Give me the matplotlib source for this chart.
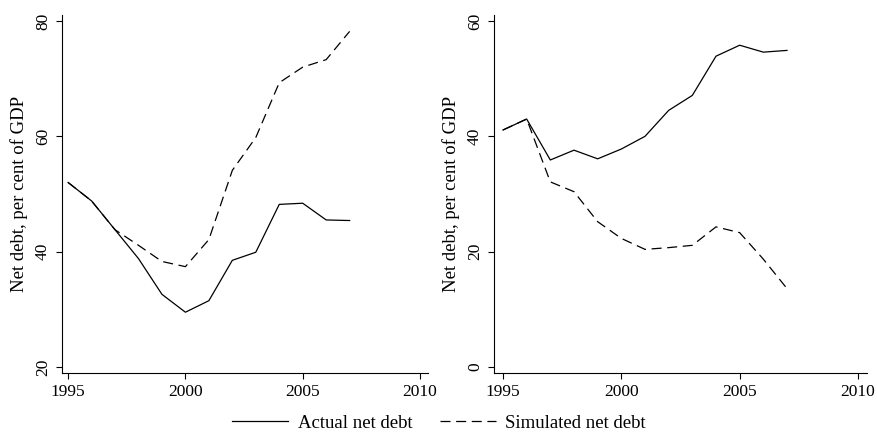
import matplotlib
matplotlib.use("Agg")
import matplotlib.pyplot as plt
from matplotlib.lines import Line2D

plt.rcParams['font.family'] = ['Liberation Serif', 'DejaVu Serif']

# Data
years = list(range(1995, 2008))

left_actual = [52.0, 48.8, 43.8, 38.8, 32.6, 29.5, 31.5, 38.5, 39.9, 48.2, 48.4, 45.5, 45.4]
left_simulated = [52.0, 48.8, 43.8, 41.1, 38.3, 37.4, 42.1, 54.1, 59.8, 69.3, 72.0, 73.3, 78.2]

right_actual = [41.1, 43.0, 35.9, 37.6, 36.1, 37.8, 40.0, 44.5, 47.1, 53.9, 55.8, 54.6, 54.9]
right_simulated = [41.1, 43.0, 32.1, 30.4, 25.2, 22.3, 20.4, 20.7, 21.1, 24.3, 23.3, 18.7, 13.6]

x_ticks = [1995, 2000, 2005, 2010]
left_yticks = [20, 40, 60, 80]
right_yticks = [0, 20, 40, 60]

ylabel = 'Net debt, per cent of GDP'
legend_labels = ['Actual net debt', 'Simulated net debt']

fig = plt.figure(figsize=(8.78, 4.32), dpi=100)
ax1 = fig.add_axes([62 / 878, 1 - 373 / 432, 366 / 878, 358 / 432])
ax2 = fig.add_axes([494 / 878, 1 - 373 / 432, 373 / 878, 358 / 432])

dash = (8, 4.5)
lw = 0.9


def style(ax, yticks, xlim, ylim):
    ax.set_xlim(*xlim)
    ax.set_ylim(*ylim)
    ax.set_xticks(x_ticks)
    ax.set_yticks(yticks)
    for s in ['top', 'right']:
        ax.spines[s].set_visible(False)
    for s in ['left', 'bottom']:
        ax.spines[s].set_linewidth(0.8)
    ax.tick_params(direction='out', length=4, width=0.8, labelsize=12.5, pad=4)
    for lab in ax.get_yticklabels():
        lab.set_rotation(90)
        lab.set_va('center')
    ax.set_ylabel(ylabel, fontsize=13.5, labelpad=5)


ax1.plot(years, left_actual, color='black', lw=lw)
ax1.plot(years, left_simulated, color='black', lw=lw, dashes=dash)
style(ax1, left_yticks, (1994.74, 2010.34), (18.96, 81.04))

ax2.plot(years, right_actual, color='black', lw=lw)
ax2.plot(years, right_simulated, color='black', lw=lw, dashes=dash)
style(ax2, right_yticks, (1994.62, 2010.38), (-1.04, 61.04))

handles = [Line2D([], [], color='black', lw=lw),
           Line2D([], [], color='black', lw=lw, dashes=dash)]
fig.legend(handles, legend_labels, loc='center', bbox_to_anchor=(0.5, 1 - 423 / 432),
           ncol=2, frameon=False, fontsize=13.5, handlelength=3.0, columnspacing=1.45,
           handletextpad=0.5)

fig.savefig('out.png', dpi=100, facecolor='white')
